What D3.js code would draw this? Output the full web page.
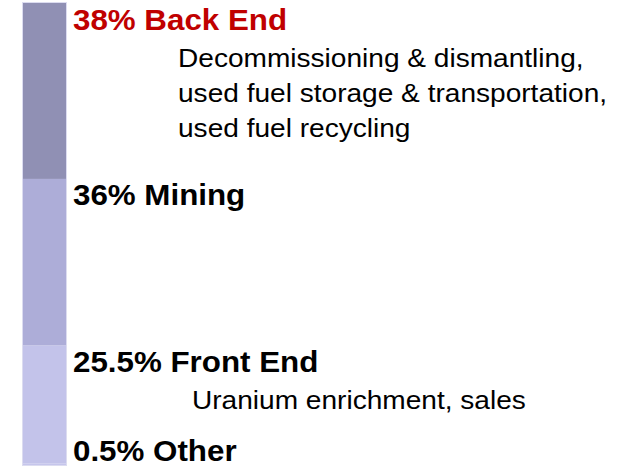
<!DOCTYPE html>
<html>
<head>
<meta charset="utf-8">
<script src="https://cdn.jsdelivr.net/npm/d3@7"></script>
<style>
  body { margin: 0; background: #fff; }
  text { font-family: Arial, "Liberation Sans", sans-serif; }
</style>
</head>
<body>
<div id="chart"></div>
<script>
// shares of revenue, top to bottom
var categories = ["Back End", "Mining", "Front End", "Other"];
var shares = [38, 36, 25.5, 0.5];
var shareLabels = ["38%", "36%", "25.5%", "0.5%"];
var descriptions = [
  ["Decommissioning & dismantling,", "used fuel storage & transportation,", "used fuel recycling"],
  [],
  ["Uranium enrichment, sales"],
  []
];

var width = 641, height = 468;
var colors = ["#9090b4", "#adadd8", "#c3c3ea", "#c6c6ec"];
var titleColors = ["#c00000", "#000", "#000", "#000"];
var descX = [178, 0, 192, 0];

var svg = d3.select("#chart").append("svg")
    .attr("width", width)
    .attr("height", height);

// cumulative starts
var starts = [], acc = 0;
shares.forEach(function(v) { starts.push(acc); acc += v; });

var y = d3.scaleLinear().domain([0, 100]).range([3, 466]);
var barX = 22, barW = 45;

svg.selectAll(".seg")
    .data(categories)
  .enter().append("rect")
    .attr("class", "seg")
    .attr("x", barX)
    .attr("y", function(d, i) { return y(starts[i]); })
    .attr("width", barW)
    .attr("height", function(d, i) { return y(starts[i] + shares[i]) - y(starts[i]); })
    .style("fill", function(d, i) { return colors[i]; });

// faint outline like the slide
svg.append("rect")
    .attr("x", barX + 0.5).attr("y", y(0) - 0.5)
    .attr("width", barW - 1).attr("height", y(100) - y(0))
    .style("fill", "none").style("stroke", "#dcdcf0").style("stroke-width", 1);

var sx = 1.08;
function titleY(i) { return Math.min(y(starts[i]) + 26.5, 461); }

svg.selectAll(".title")
    .data(categories)
  .enter().append("text")
    .attr("class", "title")
    .attr("transform", function(d, i) { return "translate(73," + titleY(i) + ") scale(" + sx + ",1)"; })
    .style("font-size", "29px")
    .style("font-weight", "bold")
    .style("fill", function(d, i) { return titleColors[i]; })
    .text(function(d, i) { return shareLabels[i] + " " + d; });

categories.forEach(function(c, i) {
  descriptions[i].forEach(function(line, j) {
    svg.append("text")
        .attr("transform", "translate(" + descX[i] + "," + (titleY(i) + 37 + j * 35) + ") scale(" + sx + ",1)")
        .style("font-size", "26px")
        .style("fill", "#000")
        .text(line);
  });
});
</script>
</body>
</html>
